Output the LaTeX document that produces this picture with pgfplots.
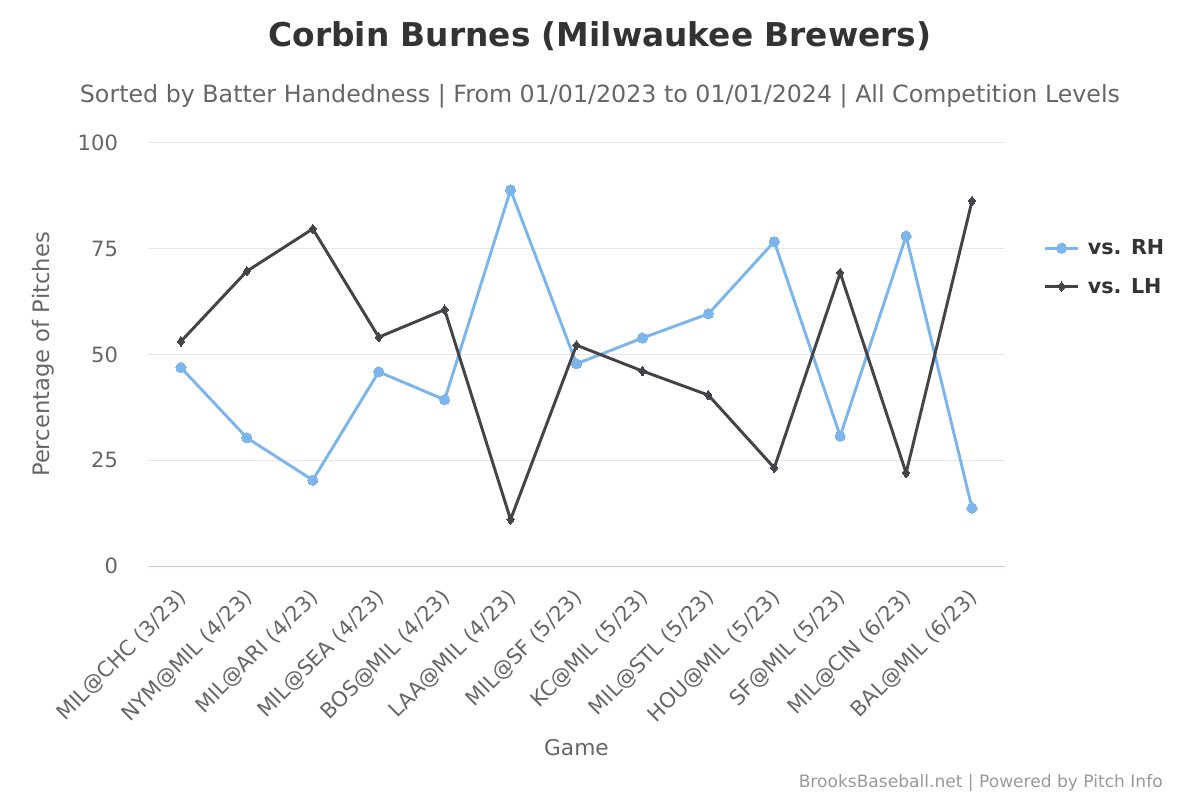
\documentclass[border=0pt]{standalone}
\usepackage{pgfplots}
\pgfplotsset{compat=1.18}
\usepackage{fontspec}
\setmainfont{DejaVu Sans}
\definecolor{rh}{HTML}{7CB5EC}
\definecolor{lh}{HTML}{434348}
\definecolor{txt}{HTML}{333333}
\definecolor{sub}{HTML}{666666}
\definecolor{cred}{HTML}{999999}
\definecolor{gridc}{HTML}{E6E6E6}
\definecolor{axc}{HTML}{C0D0E0}

\begin{document}
\begin{tikzpicture}
\useasboundingbox (0,0) rectangle (900pt,600pt);
% title, subtitle, credits
\node[text=txt, font=\fontsize{24.6}{28}\selectfont\bfseries] at (450pt,573pt) {Corbin Burnes (Milwaukee Brewers)};
\node[text=sub, font=\fontsize{17.8}{20}\selectfont] at (450pt,528pt) {Sorted by Batter Handedness | From 01/01/2023 to 01/01/2024 | All Competition Levels};
\node[text=cred, font=\fontsize{12.8}{15}\selectfont, anchor=east, inner sep=0pt] at (872.25pt,12.75pt) {BrooksBaseball.net | Powered by Pitch Info};

\begin{axis}[
    at={(111pt,175.5pt)}, anchor=south west,
    scale only axis,
    width=642.75pt, height=317.25pt,
    xmin=-0.5, xmax=12.5,
    ymin=0, ymax=100,
    ytick={0,25,50,75,100},
    xtick={0,...,12},
    xticklabels={MIL@CHC (3/23), NYM@MIL (4/23), MIL@ARI (4/23), MIL@SEA (4/23), BOS@MIL (4/23), LAA@MIL (4/23), MIL@SF (5/23), KC@MIL (5/23), MIL@STL (5/23), HOU@MIL (5/23), SF@MIL (5/23), MIL@CIN (6/23), BAL@MIL (6/23)},
    axis x line*=bottom, axis y line*=left,
    x axis line style={draw=axc, line width=0.75pt, -},
    y axis line style={draw=none},
    major tick length=0pt,
    ymajorgrids, grid style={draw=gridc, line width=0.75pt},
    /pgf/number format/assume math mode=true,
    yticklabel style={text=sub, font=\fontsize{15.8}{18}\selectfont, xshift=-19pt},
    xticklabel style={text=sub, font=\fontsize{15.8}{18}\selectfont, rotate=45, anchor=north east, xshift=-10.5pt, yshift=-5.5pt},
    xlabel={Game}, ylabel={Percentage of Pitches},
    every axis x label/.style={at={(axis description cs:0.5,-0.43)}, anchor=center, text=sub, font=\fontsize{16.3}{19}\selectfont},
    every axis y label/.style={at={(axis description cs:-0.122,0.5)}, rotate=90, anchor=center, text=sub, font=\fontsize{17}{19}\selectfont},
    legend style={at={(axis description cs:1.04,0.785)}, anchor=north west, draw=none, fill=none,
        font=\fontsize{15.5}{18}\selectfont\bfseries, text=txt, row sep=12pt,
        nodes={inner xsep=6pt}},
    legend cell align=left,
    legend image code/.code={\draw[mark repeat=2,mark phase=2] plot coordinates {(0pt,0pt) (12.5pt,0pt) (25pt,0pt)};},
    clip=false,
]
\addplot[rh, line width=2.2pt, mark=*, mark size=3.8pt, mark options={fill=rh, draw=rh, line width=0pt}] coordinates {
    (0,46.9) (1,30.3) (2,20.3) (3,45.9) (4,39.3) (5,88.9) (6,47.8)
    (7,53.9) (8,59.6) (9,76.7) (10,30.7) (11,78.0) (12,13.7)
};
\addlegendentry{vs. RH}
\addplot[lh, line width=2.2pt, mark=diamond*, mark size=3.6pt, mark options={fill=lh, draw=lh, line width=0pt}] coordinates {
    (0,53.1) (1,69.7) (2,79.7) (3,54.1) (4,60.6) (5,11.0) (6,52.2)
    (7,46.1) (8,40.4) (9,23.2) (10,69.3) (11,22.0) (12,86.3)
};
\addlegendentry{vs. LH}
\end{axis}
\end{tikzpicture}
\end{document}
